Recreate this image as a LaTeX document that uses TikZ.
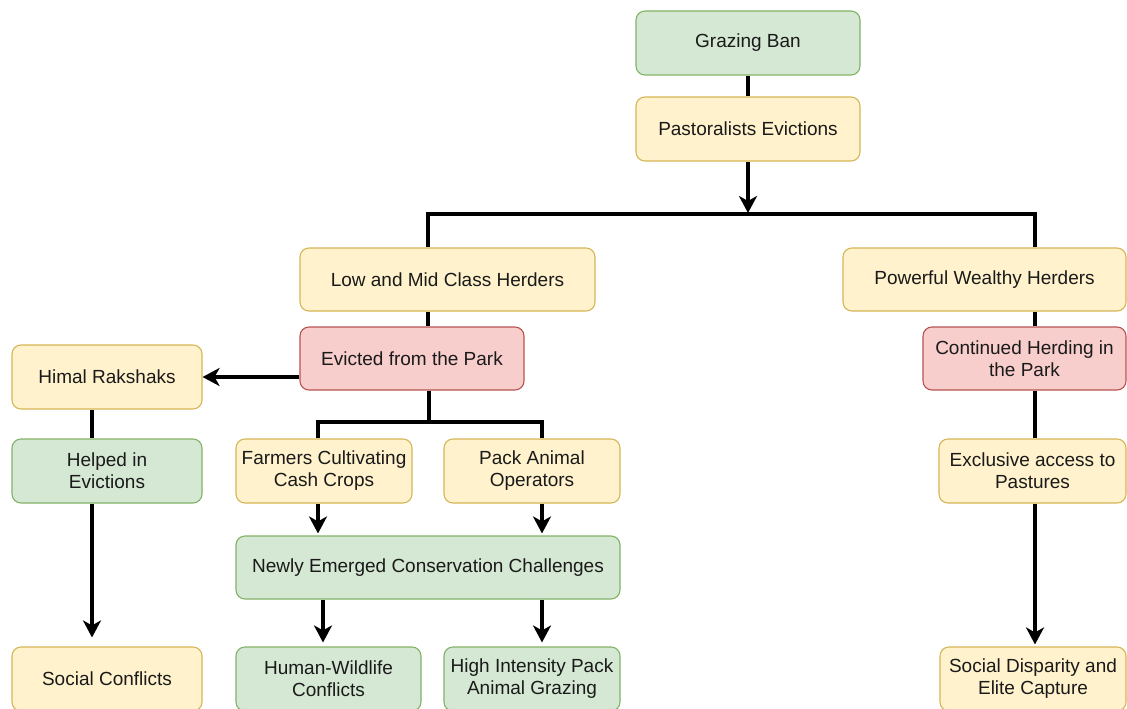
\documentclass[tikz,border=0pt]{standalone}
\usepackage{fontspec}
\setmainfont{Liberation Sans}
\usetikzlibrary{arrows.meta}
\definecolor{gfill}{HTML}{D5E8D4}
\definecolor{gline}{HTML}{82B366}
\definecolor{yfill}{HTML}{FFF2CC}
\definecolor{yline}{HTML}{D6B656}
\definecolor{rfill}{HTML}{F8CECC}
\definecolor{rline}{HTML}{B85450}
\definecolor{txt}{HTML}{1A1A1A}
\begin{document}
\begin{tikzpicture}[x=1pt,y=-1pt,
  box/.style={rounded corners=9pt, line width=1.1pt, align=center, inner sep=0pt,
    font=\fontsize{19}{22}\selectfont, text=txt},
  gbox/.style={box, draw=gline, fill=gfill},
  ybox/.style={box, draw=yline, fill=yfill},
  rbox/.style={box, draw=rline, fill=rfill},
  edge/.style={line width=3.3pt, draw=black},
  arr/.style={edge, -{Stealth[length=17pt,width=18pt,inset=5pt]}}]
\useasboundingbox (0,0) rectangle (1127,709);
\clip (0,0) rectangle (1127,709);
\fill[white] (0,0) rectangle (1127,709);

% nodes
\node[gbox, minimum width=224pt, minimum height=64pt] (gb) at (748,43) {Grazing Ban};
\node[ybox, minimum width=224pt, minimum height=64pt] (pe) at (748,129) {Pastoralists Evictions};
\node[ybox, minimum width=295pt, minimum height=63pt] (lm) at (447.5,279.5) {Low and Mid Class Herders};
\node[ybox, minimum width=283pt, minimum height=63pt] (pw) at (984.5,279.5) {Powerful Wealthy Herders};
\node[rbox, minimum width=224pt, minimum height=63pt] (ev) at (412,358.5) {Evicted from the Park};
\node[rbox, minimum width=203pt, minimum height=63pt] (ch) at (1024.5,358.5) {Continued Herding in\\the Park};
\node[ybox, minimum width=190pt, minimum height=64pt] (hr) at (107,377) {Himal Rakshaks};
\node[gbox, minimum width=190pt, minimum height=64pt] (he) at (107,471) {Helped in\\Evictions};
\node[ybox, minimum width=176pt, minimum height=64pt] (fc) at (324,471) {Farmers Cultivating\\Cash Crops};
\node[ybox, minimum width=176pt, minimum height=64pt] (pa) at (532,471) {Pack Animal\\Operators};
\node[ybox, minimum width=187pt, minimum height=64pt] (ex) at (1032.5,471) {Exclusive access to\\Pastures};
\node[gbox, minimum width=384pt, minimum height=63pt] (nc) at (428,567.5) {Newly Emerged Conservation Challenges};
\node[ybox, minimum width=190pt, minimum height=64pt] (sc) at (107,679) {Social Conflicts};
\node[gbox, minimum width=185pt, minimum height=64pt] (hw) at (328.5,679) {Human-Wildlife\\Conflicts};
\node[gbox, minimum width=176pt, minimum height=64pt] (hi) at (532,679) {High Intensity Pack\\Animal Grazing};
\node[ybox, minimum width=186pt, minimum height=64pt] (sd) at (1033,679) {Social Disparity and\\Elite Capture};

% junction coordinates
\coordinate (jt) at (748,213);
\coordinate (tl) at (428,214);
\coordinate (tr) at (1035,214);
\coordinate (cx) at (92,0);
\coordinate (bj) at (429,422);
\coordinate (bl) at (318,422);
\coordinate (br) at (542,422);
\coordinate (nl) at (323,0);
\coordinate (nr) at (542,0);

% connectors
\draw[edge] (gb) -- (pe);
\draw[arr] (pe) -- (jt);
\draw[edge] (lm.north -| tl) -- (tl) -- (tr) -- (pw.north -| tr);
\draw[edge] (lm.south -| tl) -- (ev.north -| tl);
\draw[edge] (pw.south -| tr) -- (ch.north -| tr);
\draw[edge] (ch.south -| tr) -- (ex.north -| tr);
\draw[arr] (ev.west |- hr.east) -- (hr.east);
\draw[edge] (hr.south -| cx) -- (he.north -| cx);
\draw[arr, shorten >=9pt] (he.south -| cx) -- (sc.north -| cx);
\draw[edge] (ev.south -| bj) -- (bj);
\draw[edge] (fc.north -| bl) -- (bl) -- (br) -- (pa.north -| br);
\draw[arr, shorten >=2pt] (fc.south -| bl) -- (nc.north -| bl);
\draw[arr, shorten >=2pt] (pa.south -| br) -- (nc.north -| br);
\draw[arr, shorten >=4pt] (nc.south -| nl) -- (hw.north -| nl);
\draw[arr, shorten >=4pt] (nc.south -| nr) -- (hi.north -| nr);
\draw[arr, shorten >=2pt] (ex.south -| tr) -- (sd.north -| tr);
\end{tikzpicture}
\end{document}
